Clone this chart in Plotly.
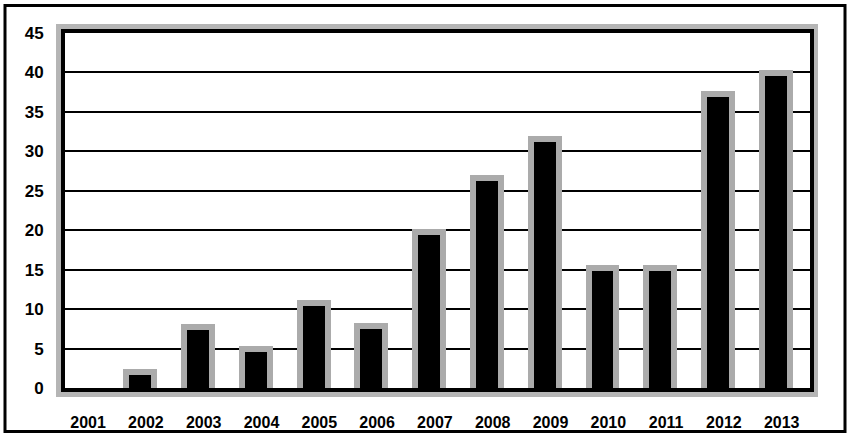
import plotly.graph_objects as go

years = ["2001", "2002", "2003", "2004", "2005", "2006", "2007",
         "2008", "2009", "2010", "2011", "2012", "2013"]
values = [0, 1.6, 7.3, 4.6, 10.4, 7.5, 19.4, 26.2, 31.2, 14.8, 14.8, 36.9, 39.5]
y_ticks = [0, 5, 10, 15, 20, 25, 30, 35, 40, 45]

W, H = 848, 443
L, R, T, B = 65, 810, 33, 393

def px(x):
    return (x - L) / (R - L)

def py(y):
    return (B - y) / (B - T)

xs = list(range(len(years)))
halo_w = [0 if v == 0 else 12 for v in values]
fig = go.Figure()
# gray halo behind bars
fig.add_trace(go.Bar(x=xs, y=values, width=0.38, offset=-0.29,
                     marker=dict(color="#ababab", line=dict(color="#ababab", width=halo_w)),
                     hoverinfo="skip", showlegend=False))
fig.add_trace(go.Bar(x=xs, y=values, width=0.38, offset=-0.29,
                     marker=dict(color="#000000", line=dict(width=0)),
                     showlegend=False))

fig.update_layout(
    width=W, height=H,
    margin=dict(l=L, r=W - R, t=T, b=H - B, pad=0),
    paper_bgcolor="white", plot_bgcolor="white",
    barmode="overlay", bargap=0,
    showlegend=False,
    font=dict(family="Liberation Sans", color="#000"),
    xaxis=dict(range=[-0.4, 12.49], tickmode="array", tickvals=xs, ticktext=years,
               showgrid=False, zeroline=False, showline=True, linecolor="#000",
               linewidth=4, mirror=True, ticks="", ticklabelstandoff=17,
               tickfont=dict(size=16, weight="bold", color="#000"), fixedrange=True),
    yaxis=dict(range=[0, 45], tickmode="array", tickvals=y_ticks,
               ticktext=[str(v) for v in y_ticks],
               showgrid=True, gridcolor="#000", gridwidth=2, zeroline=False,
               showline=True, linecolor="#000", linewidth=4, mirror=True,
               ticks="", ticklabelstandoff=14,
               tickfont=dict(size=17, weight="bold", color="#000"), fixedrange=True),
    shapes=[
        # gray halo around plot frame
        dict(type="rect", xref="paper", yref="paper",
             x0=px(59), x1=px(815), y0=py(399), y1=py(27),
             line=dict(color="#b5b5b5", width=6), layer="below"),
        # outer image border
        dict(type="rect", xref="paper", yref="paper",
             x0=px(5), x1=px(845), y0=py(437), y1=py(5),
             line=dict(color="#000", width=3), layer="below"),
    ],
)

fig.write_html("out.html")
